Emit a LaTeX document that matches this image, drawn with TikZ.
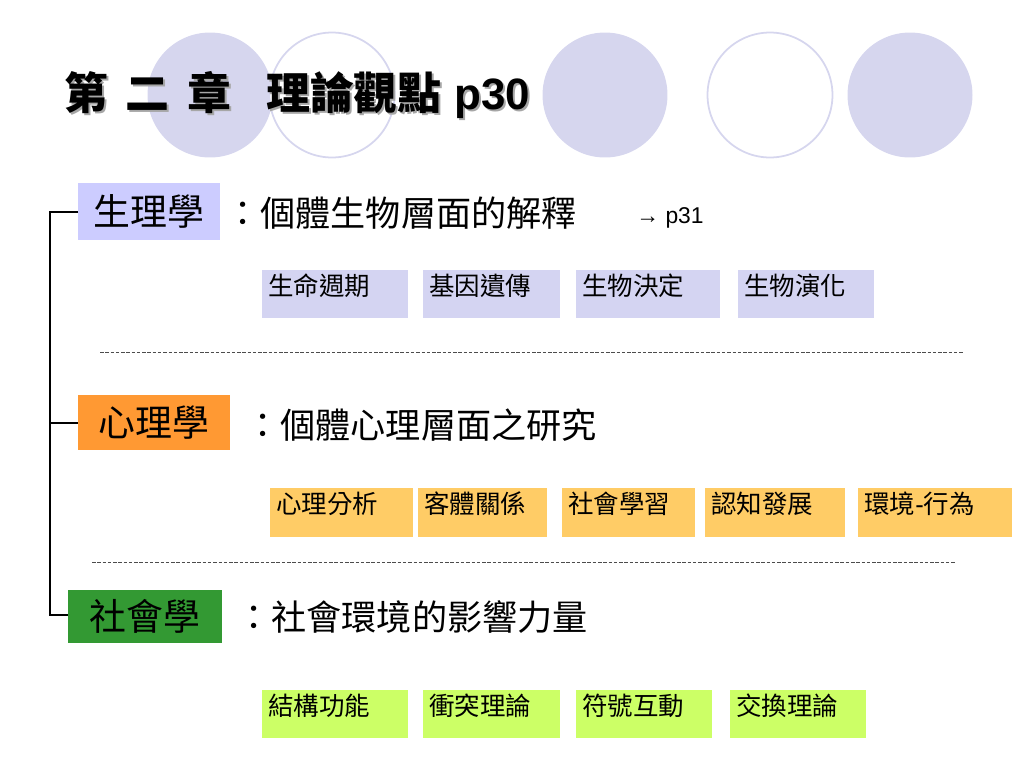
\documentclass[tikz,border=0pt]{standalone}
\usepackage{fontspec}
\setmainfont{Liberation Sans}
\newfontfamily\cjk{Noto Sans CJK TC}
\usetikzlibrary{positioning}
\definecolor{lav}{RGB}{214,214,238}
\definecolor{biobox}{RGB}{204,204,255}
\definecolor{biotag}{RGB}{212,212,242}
\definecolor{psybox}{RGB}{255,153,51}
\definecolor{psytag}{RGB}{255,204,102}
\definecolor{socbox}{RGB}{51,153,51}
\definecolor{soctag}{RGB}{204,255,102}
\newcommand\titletext{第\hspace{0.35cm}二\hspace{0.35cm}章\hspace{0.7cm}理論觀點\hspace{0.25cm}\textrm{\bfseries p30}}
\begin{document}
\begin{tikzpicture}[x=0.02cm,y=-0.02cm,
    disc/.style={circle, minimum size=2.5cm, inner sep=0pt},
    field/.style={anchor=north west, inner sep=0pt, font=\cjk\fontsize{21}{24}\selectfont, align=center},
    note/.style={anchor=west, inner sep=0pt, font=\cjk\fontsize{20}{22}\selectfont},
    tag/.style={anchor=north west, inner sep=0pt, font=\cjk\fontsize{14.5}{16}\selectfont, align=left},
    rule/.style={draw=black!70, dashed, dash pattern=on 2pt off 1pt, thin}
]
    \useasboundingbox (0,0) rectangle (1024,768);
    % circles
    \node[disc, fill=lav] (c1) at (210,95) {};
    \node[disc, draw=lav, line width=1pt, fill=white] (c2) at (332,95) {};
    \node[disc, fill=lav] (c3) at (605,95) {};
    \node[disc, draw=lav, line width=1pt, fill=white] (c4) at (770,95) {};
    \node[disc, fill=lav] (c5) at (910,95) {};
    % title
    \node[anchor=west, inner sep=0pt, text=black!35, font=\cjk\bfseries\fontsize{25}{28}\selectfont] at (66,97) {\titletext};
    \node[anchor=west, inner sep=0pt, font=\cjk\bfseries\fontsize{25}{28}\selectfont] (title) at (64,95) {\titletext};
    % fields
    \node[field, fill=biobox, minimum width=2.84cm, minimum height=1.14cm] (bio) at (78,183) {生理學};
    \node[field, fill=psybox, minimum width=3.04cm, minimum height=1.1cm] (psy) at (78,395) {心理學};
    \node[field, fill=socbox, minimum width=3.08cm, minimum height=1.06cm] (soc) at (68,590) {社會學};
    \node[note] (bionote) at (225,213) {：個體生物層面的解釋};
    \node[anchor=west, inner sep=0pt, font=\fontsize{13}{15}\selectfont] (ref) at (636,218) {→ p31};
    \node[note] (psynote) at (245,425) {：個體心理層面之研究};
    \node[note] (socnote) at (236,617) {：社會環境的影響力量};
    % bracket
    \coordinate (top) at (50,212);
    \coordinate (mid) at (50,423);
    \coordinate (bot) at (50,615);
    \draw[line width=1.5pt] (bio.west |- top) -- (top) -- (bot) -- (soc.west |- bot);
    \draw[line width=1.5pt] (mid) -- (psy.west |- mid);
    % tags
    \foreach \x/\w/\t in {262/146/生命週期, 423/137/基因遺傳, 576/144/生物決定, 738/136/生物演化}
        \node[tag, fill=biotag, minimum width=\w*0.02cm, minimum height=0.96cm, text width=\w*0.02cm-0.24cm, inner xsep=0.12cm, text height=0.5cm, text depth=0.46cm] (b\x) at (\x,270) {\t};
    \foreach \x/\w/\t in {270/143/心理分析, 418/129/客體關係, 562/133/社會學習, 705/140/認知發展, 858/154/環境\textrm{-}行為}
        \node[tag, fill=psytag, minimum width=\w*0.02cm, minimum height=0.98cm, text width=\w*0.02cm-0.24cm, inner xsep=0.12cm, text height=0.5cm, text depth=0.48cm] (p\x) at (\x,488) {\t};
    \foreach \x/\w/\t in {262/146/結構功能, 423/137/衝突理論, 576/136/符號互動, 730/136/交換理論}
        \node[tag, fill=soctag, minimum width=\w*0.02cm, minimum height=0.96cm, text width=\w*0.02cm-0.24cm, inner xsep=0.12cm, text height=0.5cm, text depth=0.46cm] (s\x) at (\x,690) {\t};
    % rules
    \coordinate (r1a) at (100,352); \coordinate (r1b) at (963,352);
    \coordinate (r2a) at (92,562); \coordinate (r2b) at (955,562);
    \draw[rule] (r1a) -- (r1b);
    \draw[rule] (r2a) -- (r2b);
\end{tikzpicture}
\end{document}
